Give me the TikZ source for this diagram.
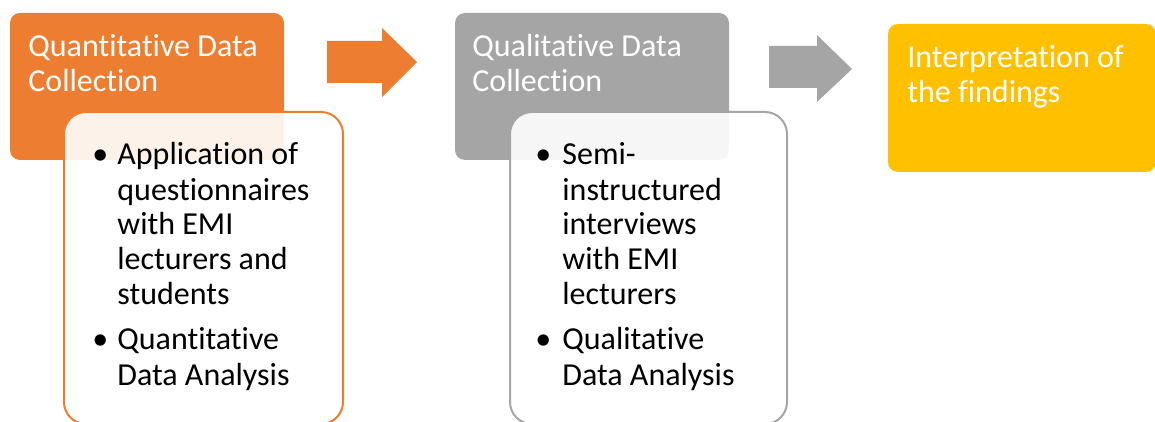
\documentclass[tikz,border=0pt]{standalone}
\usepackage{fontspec}
\setmainfont{Carlito}[Ligatures={NoCommon,NoContextual,NoRequired,NoRare},RawFeature={-liga;-clig;-calt;-dlig}]
\definecolor{qorange}{HTML}{ED7D31}
\definecolor{qgrey}{HTML}{A5A5A5}
\definecolor{qgold}{HTML}{FFC000}
\begin{document}
\begin{tikzpicture}[x=0.5pt,y=-0.5pt,
  phase/.style={fill=#1, draw=none, rounded corners=5pt, inner sep=0pt},
  listbox/.style={draw=#1, line width=1pt, fill=white, fill opacity=0.9,
                  rounded corners=11pt, inner sep=0pt},
  heading/.style={anchor=base west, inner sep=0pt, text=white,
                  font=\fontsize{16}{17.5}\selectfont},
  body/.style={anchor=base west, inner sep=0pt, text=black,
               font=\fontsize{16}{17.5}\selectfont}]
\useasboundingbox (0,0) rectangle (1155,422);

% stage boxes
\node[phase=qorange, minimum width=137pt, minimum height=73.5pt] (quant) at (147,86.5) {};
\node[phase=qgrey,   minimum width=137pt, minimum height=73.5pt] (qual)  at (592,86.5) {};
\node[phase=qgold,   minimum width=134pt, minimum height=74pt]   (interp) at (1022,98) {};

% detail boxes, running past the lower edge
\node[listbox=qorange, minimum width=139.5pt, minimum height=156pt] (quantlist) at (203.5,268) {};
\node[listbox=qgrey,   minimum width=138.5pt, minimum height=156pt] (quallist)  at (648.5,268) {};

% block arrows between stages
\fill[qorange] (327,41) -- (382,41) -- (382,28) -- (417,62) -- (382,97) -- (382,83) -- (327,83) -- cycle;
\fill[qgrey]   (769,46) -- (817,46) -- (817,35) -- (852,69) -- (817,102) -- (817,88) -- (769,88) -- cycle;

% headings
\node[heading] (quanttitle) at (28,57) {\parbox[t]{150pt}{Quantitative Data\\Collection}};
\node[heading] (qualtitle) at (472,57) {\parbox[t]{150pt}{Qualitative Data\\Collection}};
\node[heading] (interptitle) at (907,68) {\parbox[t]{150pt}{Interpretation of\\the findings}};

% bullet lists
\node[body] (quanttext) at (100,165) {%
  \begin{tabular}[t]{@{}l@{\hspace{8.5pt}}l@{}}
  \makebox[0pt]{\textbullet} & Application of\\
   & questionnaires\\
   & with EMI\\
   & lecturers and\\
   & students\\[5pt]
  \makebox[0pt]{\textbullet} & Quantitative\\
   & Data Analysis
  \end{tabular}};
\node[body] (qualtext) at (543,165) {%
  \begin{tabular}[t]{@{}l@{\hspace{9.5pt}}l@{}}
  \makebox[0pt]{\textbullet} & Semi-\\
   & instructured\\
   & interviews\\
   & with EMI\\
   & lecturers\\[5pt]
  \makebox[0pt]{\textbullet} & Qualitative\\
   & Data Analysis
  \end{tabular}};
\end{tikzpicture}
\end{document}
